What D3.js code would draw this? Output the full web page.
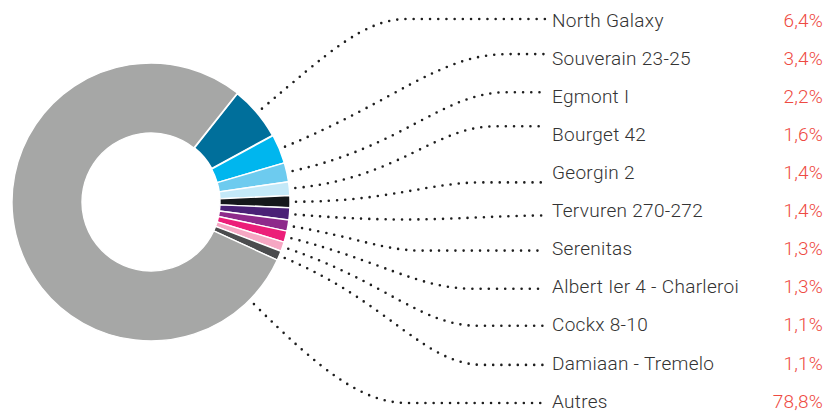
<!DOCTYPE html>
<html>
<head>
<meta charset="utf-8">
<script src="https://cdn.jsdelivr.net/npm/d3@7"></script>
<style>
  html, body { margin: 0; padding: 0; background: #fff; }
  svg { display: block; }
  .label { font-family: Roboto, "Open Sans", sans-serif; font-weight: 300; font-size: 19px; letter-spacing: 0.3px; fill: #333; }
  .value { font-family: Roboto, "Open Sans", sans-serif; font-weight: 300; font-size: 19px; letter-spacing: 0.2px; fill: #ee4a42; }
  .leader { fill: none; stroke: #1e1e1e; stroke-width: 2.6; stroke-linecap: round; stroke-dasharray: 0 8.2; }
</style>
</head>
<body>
<div id="chart"></div>
<script>
// data
const names = ['North Galaxy', 'Souverain 23-25', 'Egmont I', 'Bourget 42', 'Georgin 2',
  'Tervuren 270-272', 'Serenitas', 'Albert Ier 4 - Charleroi', 'Cockx 8-10', 'Damiaan - Tremelo', 'Autres'];
const shares = [6.4, 3.4, 2.2, 1.6, 1.4, 1.4, 1.3, 1.3, 1.1, 1.1, 78.8];
const colors = ['#006f9b', '#00b6ee', '#6dcbef', '#c4e9f8', '#15181b',
  '#4a2176', '#8e2a8b', '#ec1e79', '#f5a7c3', '#4b4c4e', '#a6a7a6'];

// leader line layout (where each curve turns horizontal, small vertical nudge)
const kneeX = [407, 507, 507, 495, 483, 545, 422, 473, 478, 483, 407];
const nudgeY = [-1, -4, -4, -8, 10, 5, 2, 2, 1, 2, 2];

const width = 826;
const height = 414;
const center = {x: 151, y: 202};
const outerR = 139;
const innerR = 69;
const lineEnd = 545;
const labelX = 552;
const valueX = 823;

const fmt = d3.formatLocale({decimal: ',', thousands: '.', grouping: [3], currency: ['', '']}).format('.1f');

const data = names.map((n, i) => ({name: n, value: shares[i], color: colors[i]}));

const svg = d3.select('#chart').append('svg')
    .attr('width', width)
    .attr('height', height);

const a0 = 38.4 * Math.PI / 180;
const pie = d3.pie().sort(null).value((d) => d.value)
    .startAngle(a0).endAngle(a0 + 2 * Math.PI);
const arcs = pie(data);

const arc = d3.arc().innerRadius(innerR).outerRadius(outerR);

const donut = svg.append('g').attr('transform', `translate(${center.x},${center.y})`);
donut.selectAll('path')
    .data(arcs)
    .enter()
    .append('path')
    .attr('d', arc)
    .attr('fill', (d) => d.data.color)
    .attr('stroke', '#fff')
    .attr('stroke-width', (d, i) => (i === 0 ? 2.4 : 1.4));

// label rows
const y = d3.scalePoint().domain(names).range([20, 401]);

// leader lines
function leader(d, i) {
  const last = i === arcs.length - 1;
  const ang = last ? d.startAngle + 0.35 : (d.startAngle + d.endAngle) / 2;
  const r0 = 145;
  const dir = [Math.sin(ang), -Math.cos(ang)];
  const s = [center.x + r0 * dir[0], center.y + r0 * dir[1]];
  const ty = y(d.data.name) + nudgeY[i];
  const k = [kneeX[i], ty];
  const dist = Math.hypot(k[0] - s[0], k[1] - s[1]);
  const c1 = [s[0] + dir[0] * dist * 0.5, s[1] + dir[1] * dist * 0.5];
  const c2 = [k[0] - (k[0] - s[0]) * 0.3, k[1]];
  const p = d3.path();
  p.moveTo(s[0], s[1]);
  p.bezierCurveTo(c1[0], c1[1], c2[0], c2[1], k[0], k[1]);
  p.lineTo(lineEnd, ty);
  return p.toString();
}

svg.append('g').selectAll('path')
    .data(arcs)
    .enter()
    .append('path')
    .attr('class', 'leader')
    .attr('d', leader);

const rows = svg.append('g').selectAll('g')
    .data(data)
    .enter()
    .append('g')
    .attr('transform', (d) => `translate(0,${y(d.name)})`);

rows.append('text')
    .attr('class', 'label')
    .attr('x', labelX)
    .attr('dy', '0.35em')
    .text((d) => d.name);

rows.append('text')
    .attr('class', 'value')
    .attr('x', valueX)
    .attr('dy', '0.35em')
    .attr('text-anchor', 'end')
    .text((d) => fmt(d.value) + '%');
</script>
</body>
</html>
